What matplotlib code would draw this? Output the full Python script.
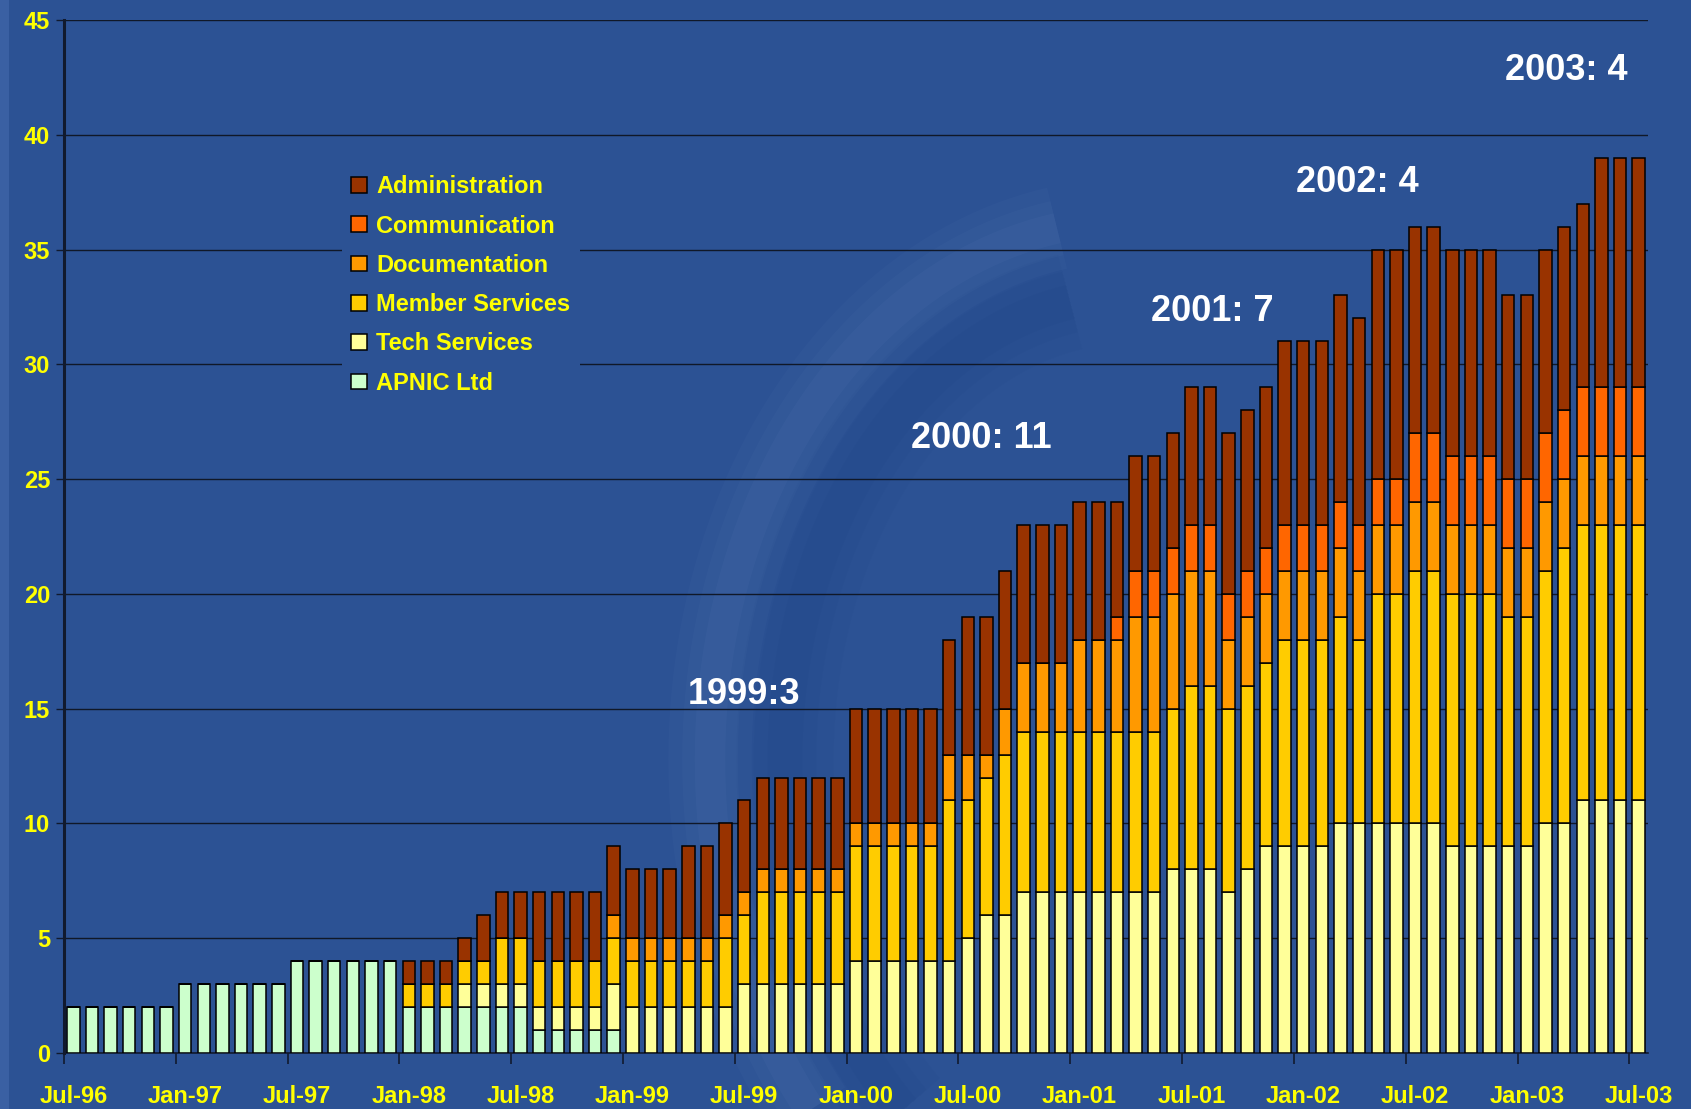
import matplotlib
matplotlib.use("Agg")
import matplotlib.pyplot as plt
from matplotlib.patches import Rectangle
import numpy as np

# ---------------- data (Jul-96 .. Jul-03, monthly) ----------------
months = ["Jul-96", "Aug-96", "Sep-96", "Oct-96", "Nov-96", "Dec-96",
          "Jan-97", "Feb-97", "Mar-97", "Apr-97", "May-97", "Jun-97",
          "Jul-97", "Aug-97", "Sep-97", "Oct-97", "Nov-97", "Dec-97",
          "Jan-98", "Feb-98", "Mar-98", "Apr-98", "May-98", "Jun-98",
          "Jul-98", "Aug-98", "Sep-98", "Oct-98", "Nov-98", "Dec-98",
          "Jan-99", "Feb-99", "Mar-99", "Apr-99", "May-99", "Jun-99",
          "Jul-99", "Aug-99", "Sep-99", "Oct-99", "Nov-99", "Dec-99",
          "Jan-00", "Feb-00", "Mar-00", "Apr-00", "May-00", "Jun-00",
          "Jul-00", "Aug-00", "Sep-00", "Oct-00", "Nov-00", "Dec-00",
          "Jan-01", "Feb-01", "Mar-01", "Apr-01", "May-01", "Jun-01",
          "Jul-01", "Aug-01", "Sep-01", "Oct-01", "Nov-01", "Dec-01",
          "Jan-02", "Feb-02", "Mar-02", "Apr-02", "May-02", "Jun-02",
          "Jul-02", "Aug-02", "Sep-02", "Oct-02", "Nov-02", "Dec-02",
          "Jan-03", "Feb-03", "Mar-03", "Apr-03", "May-03", "Jun-03",
          "Jul-03"]

apnic_ltd = [2, 2, 2, 2, 2, 2,
             3, 3, 3, 3, 3, 3, 4, 4, 4, 4, 4, 4,
             2, 2, 2, 2, 2, 2, 2, 1, 1, 1, 1, 1,
             0, 0, 0, 0, 0, 0, 0, 0, 0, 0, 0, 0,
             0, 0, 0, 0, 0, 0, 0, 0, 0, 0, 0, 0,
             0, 0, 0, 0, 0, 0, 0, 0, 0, 0, 0, 0,
             0, 0, 0, 0, 0, 0, 0, 0, 0, 0, 0, 0,
             0, 0, 0, 0, 0, 0, 0]
tech_services = [0, 0, 0, 0, 0, 0,
                 0, 0, 0, 0, 0, 0, 0, 0, 0, 0, 0, 0,
                 0, 0, 0, 1, 1, 1, 1, 1, 1, 1, 1, 2,
                 2, 2, 2, 2, 2, 2, 3, 3, 3, 3, 3, 3,
                 4, 4, 4, 4, 4, 4, 5, 6, 6, 7, 7, 7,
                 7, 7, 7, 7, 7, 8, 8, 8, 7, 8, 9, 9,
                 9, 9, 10, 10, 10, 10, 10, 10, 9, 9, 9, 9,
                 9, 10, 10, 11, 11, 11, 11]
member_services = [0, 0, 0, 0, 0, 0,
                   0, 0, 0, 0, 0, 0, 0, 0, 0, 0, 0, 0,
                   1, 1, 1, 1, 1, 2, 2, 2, 2, 2, 2, 2,
                   2, 2, 2, 2, 2, 3, 3, 4, 4, 4, 4, 4,
                   5, 5, 5, 5, 5, 7, 6, 6, 7, 7, 7, 7,
                   7, 7, 7, 7, 7, 7, 8, 8, 8, 8, 8, 9,
                   9, 9, 9, 8, 10, 10, 11, 11, 11, 11, 11, 10,
                   10, 11, 12, 12, 12, 12, 12]
documentation = [0, 0, 0, 0, 0, 0,
                 0, 0, 0, 0, 0, 0, 0, 0, 0, 0, 0, 0,
                 0, 0, 0, 0, 0, 0, 0, 0, 0, 0, 0, 1,
                 1, 1, 1, 1, 1, 1, 1, 1, 1, 1, 1, 1,
                 1, 1, 1, 1, 1, 2, 2, 1, 2, 3, 3, 3,
                 4, 4, 4, 5, 5, 5, 5, 5, 3, 3, 3, 3,
                 3, 3, 3, 3, 3, 3, 3, 3, 3, 3, 3, 3,
                 3, 3, 3, 3, 3, 3, 3]
communication = [0, 0, 0, 0, 0, 0,
                 0, 0, 0, 0, 0, 0, 0, 0, 0, 0, 0, 0,
                 0, 0, 0, 0, 0, 0, 0, 0, 0, 0, 0, 0,
                 0, 0, 0, 0, 0, 0, 0, 0, 0, 0, 0, 0,
                 0, 0, 0, 0, 0, 0, 0, 0, 0, 0, 0, 0,
                 0, 0, 1, 2, 2, 2, 2, 2, 2, 2, 2, 2,
                 2, 2, 2, 2, 2, 2, 3, 3, 3, 3, 3, 3,
                 3, 3, 3, 3, 3, 3, 3]
administration = [0, 0, 0, 0, 0, 0,
                  0, 0, 0, 0, 0, 0, 0, 0, 0, 0, 0, 0,
                  1, 1, 1, 1, 2, 2, 2, 3, 3, 3, 3, 3,
                  3, 3, 3, 4, 4, 4, 4, 4, 4, 4, 4, 4,
                  5, 5, 5, 5, 5, 5, 6, 6, 6, 6, 6, 6,
                  6, 6, 5, 5, 5, 5, 6, 6, 7, 7, 7, 8,
                  8, 8, 9, 9, 10, 10, 9, 9, 9, 9, 9, 8,
                  8, 8, 8, 8, 10, 10, 10]

series_names = ["APNIC Ltd", "Tech Services", "Member Services",
                "Documentation", "Communication", "Administration"]
series_colors = ["#CCFFCC", "#FFFF99", "#FFCC00", "#FF9900", "#FF6600", "#993300"]

label_months = ["Jul-96", "Jan-97", "Jul-97", "Jan-98", "Jul-98", "Jan-99",
                "Jul-99", "Jan-00", "Jul-00", "Jan-01", "Jul-01", "Jan-02",
                "Jul-02", "Jan-03", "Jul-03"]

annot_texts = ["1999:3", "2000: 11", "2001: 7", "2002: 4", "2003: 4"]
annot_x = [36.0, 48.7, 61.1, 68.9, 80.1]
annot_y = [15.6, 26.75, 32.3, 37.9, 42.8]

# ---------------- style ----------------
BG = "#2C5294"
YEL = "#FFFF00"
FONT = ["Liberation Sans", "DejaVu Sans"]
plt.rcParams["font.family"] = FONT
plt.rcParams["font.weight"] = "bold"

W, H = 1691, 1109
fig = plt.figure(figsize=(W / 100, H / 100), dpi=100, facecolor=BG)
fig.patches.append(Rectangle((0, 0), 9 / W, 1, transform=fig.transFigure,
                             facecolor="#3A60A3", edgecolor="none", zorder=-5))

# faint background swirl (decoration)
bgax = fig.add_axes([0, 0, 1, 1], zorder=-1)
bgax.set_xlim(0, W)
bgax.set_ylim(H, 0)
bgax.axis("off")
th = np.radians(np.linspace(100, 262, 200))
cx, cy = 1130, 760
for lw, a in [(60, 0.05), (40, 0.06), (22, 0.07)]:
    bgax.plot(cx + 420 * np.cos(th), cy - 540 * np.sin(th), color="#6F90C8",
              lw=lw, alpha=a, solid_capstyle="butt")
for lw, a in [(70, 0.05), (45, 0.06), (25, 0.07)]:
    bgax.plot(cx + 345 * np.cos(th), cy - 465 * np.sin(th), color="#163A75",
              lw=lw, alpha=a, solid_capstyle="butt")

ax = fig.add_axes([64 / W, 1 - 1053 / H, (1648 - 64) / W, (1053 - 20) / H])
ax.set_facecolor("none")

x = np.arange(len(months))
series = [apnic_ltd, tech_services, member_services, documentation,
          communication, administration]
bottom = np.zeros(len(months))
handles = []
for name, vals, col in zip(series_names, series, series_colors):
    v = np.array(vals, dtype=float)
    bars = ax.bar(x, v, bottom=bottom, width=0.67, color=col,
                  edgecolor="black", linewidth=1.1, label=name, zorder=3)
    handles.append(bars)
    bottom += v

ax.set_xlim(-0.5, len(months) - 0.5)
ax.set_ylim(0, 45)
ax.set_yticks(np.arange(0, 46, 5))
ax.yaxis.grid(True, color="#101828", linewidth=1.0, zorder=0)
ax.set_axisbelow(True)

for s in ["top", "right"]:
    ax.spines[s].set_visible(False)
ax.spines["left"].set_color("#111a2e")
ax.spines["left"].set_linewidth(2.2)
ax.spines["bottom"].set_color("#111a2e")
ax.spines["bottom"].set_linewidth(1.2)

label_idx = [months.index(m) for m in label_months]
ax.set_xticks([i - 0.5 for i in label_idx])
ax.set_xticklabels([])
ax.tick_params(axis="x", which="major", length=8, width=1.2, color="#111a2e",
               direction="out")
ax.set_xticks(label_idx, minor=True)
ax.set_xticklabels(label_months, minor=True)
ax.tick_params(axis="x", which="minor", length=0, pad=23, labelsize=17,
               labelcolor=YEL)
ax.tick_params(axis="y", length=6, width=1.0, color="#111a2e", pad=4,
               labelsize=17, labelcolor=YEL)
for lab in ax.get_yticklabels() + ax.get_xticklabels(minor=True):
    lab.set_fontweight("bold")

for t, xx, yy in zip(annot_texts, annot_x, annot_y):
    ax.text(xx, yy, t, color="white", fontsize=26, fontweight="bold",
            ha="center", va="center", zorder=5)

leg = ax.legend(handles[::-1], series_names[::-1], loc="upper left",
                bbox_to_anchor=(330 / W, 1 - 154 / H),
                bbox_transform=fig.transFigure, frameon=True,
                facecolor=BG, edgecolor="none", framealpha=1.0,
                fontsize=17, labelcolor=YEL, handlelength=0.65,
                handleheight=0.65, handletextpad=0.4, labelspacing=0.69,
                borderpad=0.4, fancybox=False)
for txt in leg.get_texts():
    txt.set_fontweight("bold")
leg.set_zorder(4)

fig.savefig("out.png", dpi=100, facecolor=BG)
